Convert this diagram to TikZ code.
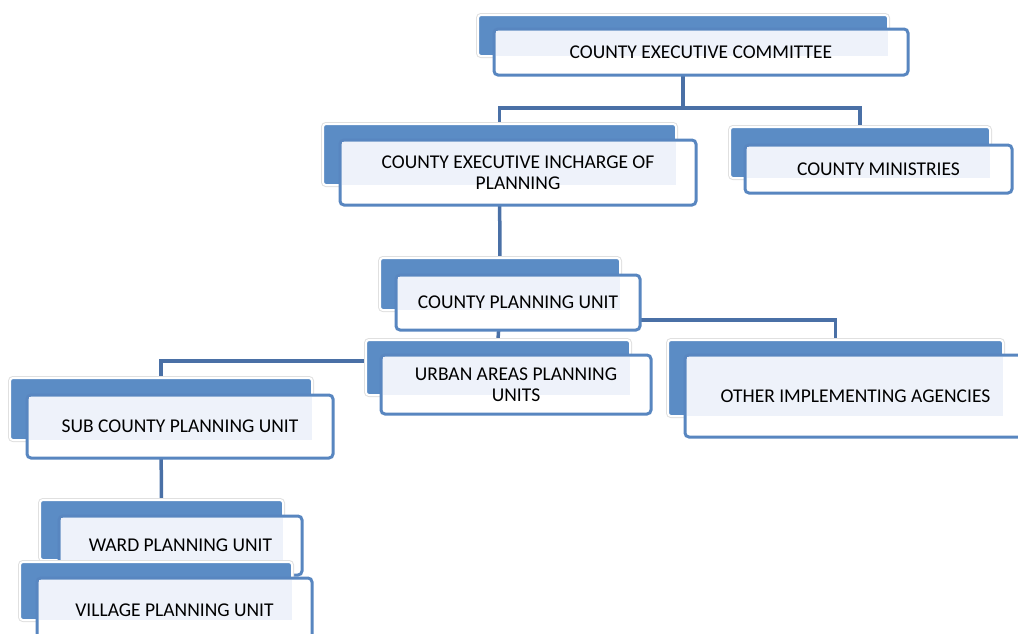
\documentclass[tikz,border=0pt]{standalone}
\usepackage{fontspec}
\setmainfont{Carlito}
\usepackage{tikz}
\usetikzlibrary{fit,backgrounds}
\definecolor{boxblue}{RGB}{91,140,197}
\definecolor{rimblue}{RGB}{88,134,192}
\definecolor{paleblue}{RGB}{238,242,250}
\definecolor{linkblue}{RGB}{74,112,166}
\tikzset{
  backbox/.style={fill=boxblue, draw=white, line width=2pt, rounded corners=3pt,
    inner sep=0pt, preaction={draw=black!12, line width=4pt}},
  frontbox/.style={fill=white, draw=rimblue, line width=3pt, rounded corners=4pt, inner sep=0pt},
  boxtext/.style={align=center, font=\fontsize{19.5}{21}\selectfont},
  link/.style={draw=linkblue, line width=3.5pt}
}

\begin{document}
\begin{tikzpicture}[x=1pt, y=-1pt]
      \useasboundingbox (0,0) rectangle (1018,633);
      \clip (0,0) rectangle (1018,633);

      \foreach \n/\ax/\ay/\bx/\by/\cx/\cy/\dx/\dy/\txt in {
          cec/478/15/888/56/494/29/908/75/{COUNTY EXECUTIVE COMMITTEE},
          ceip/323/124/676/185/340/140/696/205/{COUNTY EXECUTIVE INCHARGE OF\\PLANNING},
          cm/730/127/990/178/745/145/1012/193/{COUNTY MINISTRIES},
          cpu/380/258/620/310/396/275/640/330/{COUNTY PLANNING UNIT},
          uap/366/340/630/395/381/355/651/414/{URBAN AREAS PLANNING\\UNITS},
          oia/668/340/1003/416/685/355/1026/437/{OTHER IMPLEMENTING AGENCIES},
          scpu/10/378/312/440/27/395/333/458/{SUB COUNTY PLANNING UNIT},
          wpu/40/500/283/560/59/516/302/575/{WARD PLANNING UNIT},
          vpu/20/562/292/620/37/578/312/642/{VILLAGE PLANNING UNIT}} {
        \node[backbox, fit={(\ax,\ay) (\bx,\by)}](\n b) {};
        \node[frontbox, fit={(\cx,\cy) (\dx,\dy)}](\n f) {};
        \fill[paleblue] (\cx+1.5,\cy+1.5) rectangle (\bx,\by);
        \node[boxtext](\n t) at (\n f.center) {\txt};
      }

      \coordinate (bus1) at (683,108);
      \coordinate (bus2) at (500,320);
      \coordinate (bus3) at (500,361);

      \begin{scope}[on background layer]
        \draw[link] (cecb.south) -- (bus1) -| (ceipb.north);
        \draw[link] (bus1) -| (cmb.north);
        \draw[link] (ceipb.south) -- (cpub.north);
        \draw[link] (cpub.south) -- (uapb.north);
        \draw[link] (bus2) -| (oiab.north);
        \draw[link] (bus3) -| (scpub.north);
        \draw[link] (scpub.south) -- (wpub.north);
      \end{scope}
    \end{tikzpicture}
\end{document}
